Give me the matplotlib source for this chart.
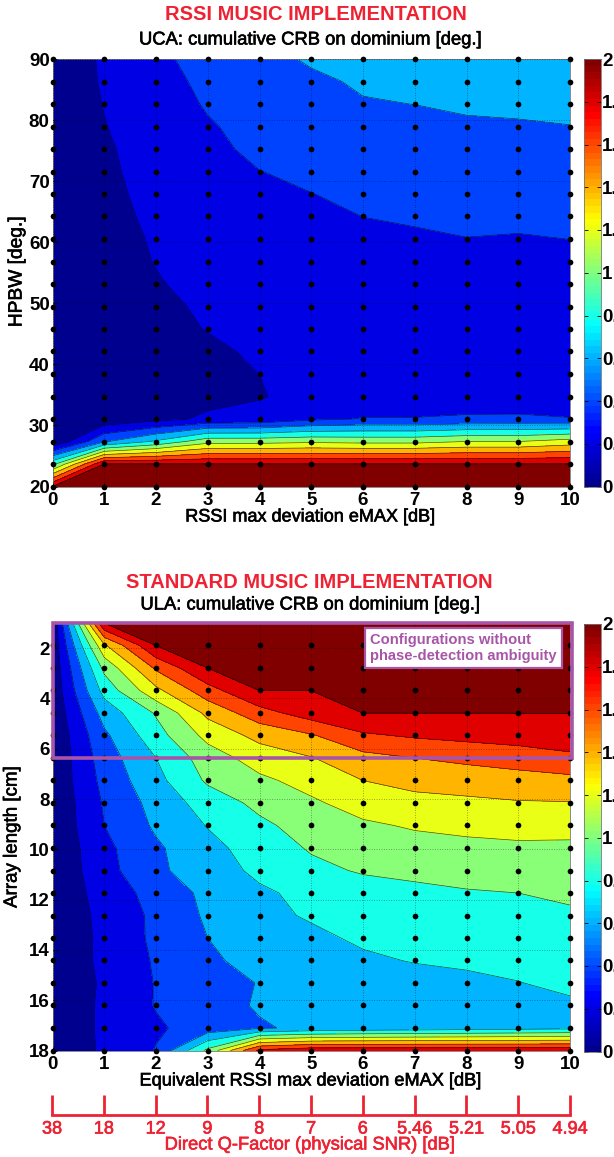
import numpy as np
import matplotlib
matplotlib.use("Agg")
import matplotlib.pyplot as plt
import matplotlib.patheffects as pe
from matplotlib.cm import ScalarMappable
from matplotlib.colors import LinearSegmentedColormap, Normalize
from matplotlib.patches import Rectangle

plt.rcParams['font.family'] = ['Liberation Sans', 'DejaVu Sans']

W, H = 614, 1157
RED = '#ee2233'
PURPLE = '#a855a8'

emax = np.arange(0, 11)
hpbw = np.linspace(20, 90, 20)
array_len = np.linspace(1, 18, 20)
q_factor = ['38', '18', '12', '9', '8', '7', '6', '5.46', '5.21', '5.05', '4.94']
levels = [0, .2, .4, .6, .8, 1., 1.2, 1.4, 1.6, 1.8, 1.999]

# UCA: one row per HPBW value, from 20 deg up to 90 deg
crb_uca = np.array([
    [2.0, 2.0, 2.0, 2.0, 2.0, 2.0, 2.0, 2.0, 2.0, 2.0, 2.0],
    [.94, 2.0, 2.0, 2.0, 2.0, 2.0, 2.0, 2.0, 2.0, 2.0, 2.0],
    [.01, .58, .83, 1.13, 1.13, 1.16, 1.14, 1.14, 1.2, 1.2, 1.29],
    [.03, .06, .14, .235, .25, .36, .41, .41, .435, .44, .41],
    [.05, .06, .07, .14, .19, .25, .26, .27, .26, .26, .27],
    [.06, .08, .11, .17, .2005, .25, .26, .27, .27, .27, .28],
    [.07, .1, .13, .175, .22, .26, .27, .28, .28, .28, .29],
    [.08, .12, .16, .205, .25, .27, .28, .29, .30, .30, .30],
    [.08, .12, .17, .22, .26, .28, .30, .31, .32, .32, .32],
    [.08, .13, .19, .24, .27, .30, .32, .33, .34, .34, .34],
    [.09, .14, .205, .25, .29, .31, .34, .35, .37, .36, .37],
    [.09, .15, .213, .265, .31, .33, .365, .38, .397, .39, .401],
    [.09, .16, .225, .28, .33, .36, .401, .417, .435, .43, .44],
    [.09, .17, .235, .30, .36, .397, .44, .455, .47, .47, .48],
    [.09, .18, .24, .32, .397, .44, .48, .49, .51, .51, .52],
    [.10, .185, .25, .345, .45, .47, .515, .53, .55, .55, .56],
    [.10, .195, .27, .38, .47, .50, .555, .565, .585, .59, .598],
    [.10, .205, .29, .42, .51, .54, .592, .601, .615, .62, .625],
    [.10, .215, .31, .455, .54, .578, .615, .625, .635, .64, .645],
    [.10, .22, .35, .485, .56, .615, .63, .64, .65, .655, .66],
])

# ULA: one row per array length, from 1 cm down to 18 cm
crb_ula = np.array([
    [.02, 2.0, 2.0, 2.0, 2.0, 2.0, 2.0, 2.0, 2.0, 2.0, 2.0],
    [.05, 1.37, 2.0, 2.0, 2.0, 2.0, 2.0, 2.0, 2.0, 2.0, 2.0],
    [.05, 1.05, 1.63, 2.0, 2.0, 2.0, 2.0, 2.0, 2.0, 2.0, 2.0],
    [.05, .87, 1.35, 1.72, 2.0, 2.0, 2.0, 2.0, 2.0, 2.0, 2.0],
    [.04, .68, 1.02, 1.45, 1.72, 1.9, 2.0, 2.0, 2.0, 2.0, 2.0],
    [.03, .56, .92, 1.26, 1.46, 1.58, 1.77, 1.825, 1.86, 1.89, 1.96],
    [.03, .5, .80, 1.1, 1.29, 1.39, 1.535, 1.6, 1.645, 1.69, 1.74],
    [.04, .46, .74, 1.03, 1.16, 1.27, 1.4, 1.46, 1.49, 1.52, 1.55],
    [.03, .42, .67, .89, 1.05, 1.17, 1.28, 1.34, 1.36, 1.385, 1.39],
    [.03, .4, .63, .81, .96, 1.08, 1.17, 1.22, 1.25, 1.26, 1.27],
    [.03, .35, .57, .74, .89, 1.02, 1.08, 1.13, 1.15, 1.17, 1.16],
    [.03, .33, .56, .71, .84, .95, 1.02, 1.05, 1.07, 1.1, 1.1],
    [.03, .29, .47, .65, .77, .85, .91, .95, .985, 1.0, 1.03],
    [.03, .26, .44, .63, .75, .82, .87, .9, .92, .95, .974],
    [.03, .25, .44, .6, .69, .76, .83, .86, .88, .9, .93],
    [.03, .25, .42, .57, .66, .72, .77, .81, .83, .85, .88],
    [.03, .23, .41, .5, .61, .66, .7, .73, .76, .795, .84],
    [.03, .24, .41, .52, .62, .65, .68, .7, .72, .74, .77],
    [.03, .24, .375, .48, .58, .64, .67, .69, .71, .73, .75],
    [.05, .23, .41, 1.05, 1.85, 1.95, 1.95, 1.95, 1.95, 1.95, 1.95],
])

# matlab flavoured jet, matplotlib's own starts a bit darker
jet64 = LinearSegmentedColormap.from_list('mjet', [
    (0, (0, 0, .5625)), (.125, (0, 0, 1)), (.375, (0, 1, 1)),
    (.625, (1, 1, 0)), (.875, (1, 0, 0)), (1, (.5, 0, 0))], N=64)


def heavy(color):
    # the reference text is a blurred screenshot, so regular weight looks too thin
    return [pe.withStroke(linewidth=.45, foreground=color)]


def px_axes(fig, left, top, right, bottom):
    return fig.add_axes([left / W, 1 - bottom / H, (right - left) / W, (bottom - top) / H])


def contour_panel(fig, top, bottom, y, z, dot_y):
    ax = px_axes(fig, 52.5, top, 570, bottom)
    band_colors = [jet64(v / 2) for v in levels]
    ax.contourf(emax, y, z, levels=levels, colors=band_colors, extend='max')
    ax.contour(emax, y, z, levels=levels[1:], colors='k', linewidths=.45, alpha=.75)
    ax.grid(True, color='k', linestyle=(0, (1, 2.5)), linewidth=.5, alpha=.65)
    ax.set_axisbelow(False)
    xx, yy = np.meshgrid(emax, dot_y)
    ax.plot(xx.ravel(), yy.ravel(), 'o', color='k', ms=4.1, mew=0, clip_on=False, zorder=5)
    ax.set_xlim(0, 10)
    ax.set_xticks(emax)
    ax.tick_params(direction='in', length=3, width=.6, labelsize=13.5, pad=2)
    ax.tick_params(axis='x', pad=4)
    for lab in ax.get_xticklabels() + ax.get_yticklabels():
        lab.set_fontweight('bold')
    for s in ax.spines.values():
        s.set_linewidth(.6)
        s.set_color('#777777')
    return ax


def colorbar_panel(fig, top, bottom):
    cax = px_axes(fig, 583.5, top, 600.5, bottom)
    sm = ScalarMappable(Normalize(0, 2), jet64)
    cb = fig.colorbar(sm, cax=cax, ticks=np.arange(0, 2.01, .2))
    cb.set_ticklabels(['0', '0.2', '0.4', '0.6', '0.8', '1', '1.2', '1.4', '1.6', '1.8', '2'])
    cax.tick_params(direction='in', length=3, width=.6, left=True, right=True, labelsize=13.5, pad=1.2)
    for lab in cax.get_yticklabels():
        lab.set_fontweight('bold')
    cb.outline.set_linewidth(.6)
    cb.outline.set_edgecolor('#777777')


def put(fig, x, y, s, **kw):
    fig.text(x / W, 1 - y / H, s, ha=kw.pop('ha', 'center'), va='center', **kw)


fig = plt.figure(figsize=(W / 100, H / 100), dpi=100)
black = heavy('k')

# upper panel
ax1 = contour_panel(fig, 59, 486.5, hpbw, crb_uca, hpbw)
ax1.set_ylim(20, 90)
ax1.set_yticks(np.arange(20, 91, 10))
ax1.set_yticklabels(ax1.get_yticks(), fontweight='bold')
colorbar_panel(fig, 59, 486.5)
put(fig, 316, 15, 'RSSI MUSIC IMPLEMENTATION', color=RED, fontsize=14.5, fontweight='bold')
put(fig, 310, 40, 'UCA: cumulative CRB on dominium [deg.]', fontsize=13.25, path_effects=black)
put(fig, 310, 517, 'RSSI max deviation eMAX [dB]', fontsize=13, path_effects=black)
put(fig, 17, 272, 'HPBW [deg.]', fontsize=13.8, rotation=90, path_effects=black)

# lower panel, the 1 cm dots do not show in the reference
ax2 = contour_panel(fig, 623, 1050.5, array_len, crb_ula, array_len[1:])
ax2.set_ylim(18, 1)
ax2.set_yticks(np.arange(2, 19, 2))
ax2.set_yticklabels(ax2.get_yticks(), fontweight='bold')
colorbar_panel(fig, 624, 1051.5)
ax2.add_patch(Rectangle((0, 1), 10.03, array_len[6] - 1, fill=False, edgecolor=PURPLE,
                        linewidth=2.6, clip_on=False, zorder=6))
ax2.text(.6135, .9415, 'Configurations without\nphase-detection ambiguity', transform=ax2.transAxes,
         ha='left', va='center', color=PURPLE, fontsize=10.6, fontweight='bold', linespacing=1.1, zorder=7,
         bbox=dict(boxstyle='square,pad=0.35', fc='white', ec=PURPLE, lw=1.6))
put(fig, 309.5, 582, 'STANDARD MUSIC IMPLEMENTATION', color=RED, fontsize=14.5, fontweight='bold')
put(fig, 310, 605, 'ULA: cumulative CRB on dominium [deg.]', fontsize=13.25, path_effects=black)
put(fig, 310, 1081, 'Equivalent RSSI max deviation eMAX [dB]', fontsize=13.1, path_effects=black)
put(fig, 12, 837, 'Array length [cm]', fontsize=13.5, rotation=90, path_effects=black)

# Q-factor scale below the lower panel
ax3 = px_axes(fig, 52, 1095, 570, 1115)
ax3.patch.set_visible(False)
for name, s in ax3.spines.items():
    s.set_visible(name == 'bottom')
ax3.spines['bottom'].set_color(RED)
ax3.spines['bottom'].set_linewidth(2)
ax3.set_xlim(0, 10)
ax3.set_yticks([])
ax3.set_xticks(emax)
ax3.set_xticklabels(q_factor, path_effects=heavy(RED))
ax3.tick_params(axis='x', direction='in', length=14.4, width=2, color=RED, labelcolor=RED, labelsize=13, pad=4)
put(fig, 310, 1145, 'Direct Q-Factor (physical SNR) [dB]', color=RED, fontsize=13.2, path_effects=heavy(RED))

fig.savefig('out.png', dpi=100)
